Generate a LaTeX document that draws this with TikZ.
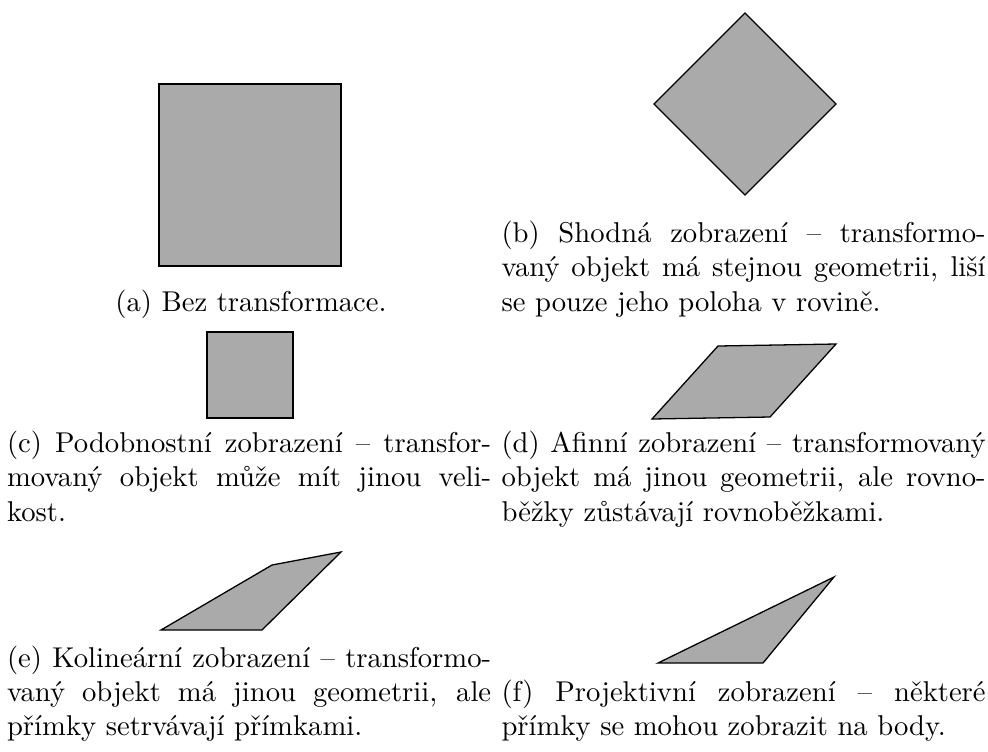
\documentclass[tikz,border=0pt]{standalone}
\usepackage{fontspec}
\definecolor{shapegray}{RGB}{170,170,170}
\tikzset{
  shp/.style={fill=shapegray, draw=black, line width=0.45pt, line join=miter},
  thickshp/.style={shp, line width=0.7pt},
  captext/.style={anchor=base west, inner sep=0pt, text width=169.05pt, align=justify, font=\normalsize},
  capcentre/.style={anchor=base, inner sep=0pt, font=\normalsize},
}
\begin{document}
\begin{tikzpicture}[x=0.34919pt, y=-0.34919pt]
\useasboundingbox (0,0) rectangle (988,751);
% (a)
\filldraw[thickshp] (159,84) rectangle (341,266);
\node[capcentre] (capa) at (251,311.2) {(a) Bez transformace.};
% (b)
\filldraw[shp] (745,13) -- (836,104) -- (745,195) -- (654,104) -- cycle;
\node[captext] (capb) at (501,242.6) {(b) Shodná zobrazení – transformo-\linebreak vaný objekt má stejnou geometrii, liší\linebreak se pouze jeho poloha v rovině.};
% (c)
\filldraw[thickshp] (207,332) rectangle (293,418);
\node[captext] (capc) at (6.5,452.3) {(c) Podobnostní zobrazení – transfor-\linebreak movaný objekt může mít jinou veli-\linebreak kost.};
% (d)
\filldraw[shp] (652,419) -- (770,417) -- (836,344) -- (718,346) -- cycle;
\node[captext] (capd) at (501,452.3) {(d) Afinní zobrazení – transformovaný\linebreak objekt má jinou geometrii, ale rovno-\linebreak běžky zůstávají rovnoběžkami.};
% (e)
\filldraw[shp] (161,630) -- (262,630) -- (341,552) -- (272,565) -- cycle;
\node[captext] (cape) at (6.5,667) {(e) Kolineární zobrazení – transformo-\linebreak vaný objekt má jinou geometrii, ale\linebreak přímky setrvávají přímkami.};
% (f)
\filldraw[shp] (658,663) -- (763,663) -- (834,577) -- cycle;
\node[captext] (capf) at (501,701.4) {(f) Projektivní zobrazení – některé\linebreak přímky se mohou zobrazit na body.};
\end{tikzpicture}
\end{document}
